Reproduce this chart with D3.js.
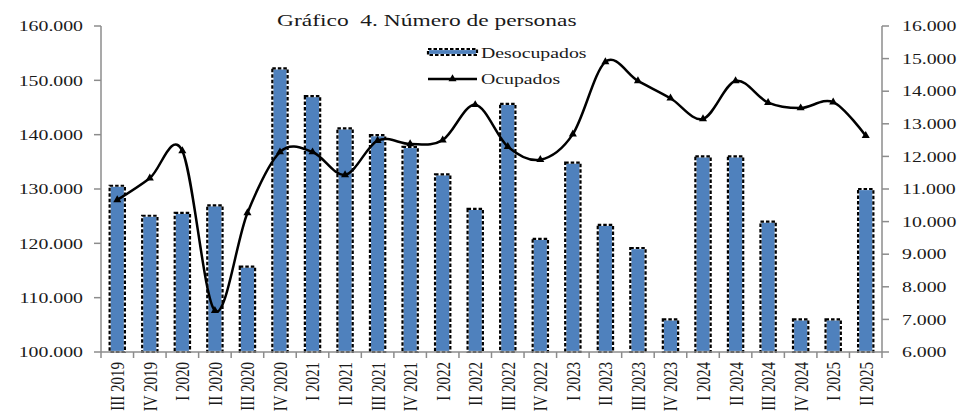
<!DOCTYPE html>
<html>
<head>
<meta charset="utf-8" />
<title>Número de personas</title>
<script src="https://cdn.jsdelivr.net/npm/d3@7"></script>
<style>
    body { margin: 0; background: #fff; }
    text { font-family: "Liberation Serif", "Times New Roman", serif; fill: #1a1a1a; font-weight: normal; }
</style>
</head>
<body>
<svg id="chart" width="959" height="411"></svg>
<script>
// quarters
var quarters = ["III 2019", "IV 2019", "I 2020", "II 2020", "III 2020", "IV 2020",
    "I 2021", "II 2021", "III 2021", "IV 2021", "I 2022", "II 2022", "III 2022", "IV 2022",
    "I 2023", "II 2023", "III 2023", "IV 2023", "I 2024", "II 2024", "III 2024", "IV 2024",
    "I 2025", "II 2025"];

// Desocupados (bars, right axis)
var desocupados = [11100, 10180, 10270, 10500, 8620, 14700,
    13850, 12860, 12650, 12290, 11450, 10390, 13610, 9470,
    11810, 9900, 9190, 7000, 12000, 12000, 10000, 7000,
    7000, 11000];

// Ocupados (line, left axis)
var ocupados = [128000, 132000, 137000, 107600, 125600, 136800,
    136800, 132600, 138900, 138300, 139000, 145500, 137800, 135400,
    140100, 153400, 149900, 146700, 142900, 149900, 145900, 144900,
    146000, 139800];

var leftTicks = [100000, 110000, 120000, 130000, 140000, 150000, 160000];
var rightTicks = [6000, 7000, 8000, 9000, 10000, 11000, 12000, 13000, 14000, 15000, 16000];

var fmt = function(v) { return d3.format(",")(v).replace(/,/g, "."); };
var stretch = 1.32;  // the picture's text is wider than it is tall

var svg = d3.select("#chart");
var pL = 101, pR = 882, pT = 26, pB = 352;

var x = d3.scaleBand().domain(quarters).range([pL, pR]).paddingInner(0.53).paddingOuter(0.265);
var xb = d3.scaleBand().domain(quarters).range([pL, pR]);
var yL = d3.scaleLinear().domain([100000, 160000]).range([pB, pT]);
var yR = d3.scaleLinear().domain([6000, 16000]).range([pB, pT]);

// bars
var bars = svg.append("g").selectAll("g").data(desocupados).enter().append("g");
bars.append("rect")
    .attr("x", function(d, i) { return x(quarters[i]); })
    .attr("y", function(d) { return yR(d); })
    .attr("width", x.bandwidth())
    .attr("height", function(d) { return pB - yR(d); })
    .attr("fill", "#4F81BD")
    .attr("stroke", "#fff")
    .attr("stroke-width", 2.2);
bars.append("rect")
    .attr("x", function(d, i) { return x(quarters[i]); })
    .attr("y", function(d) { return yR(d); })
    .attr("width", x.bandwidth())
    .attr("height", function(d) { return pB - yR(d); })
    .attr("fill", "none")
    .attr("stroke", "#000")
    .attr("stroke-width", 2.2)
    .attr("stroke-dasharray", "3.5,2");

// axes lines
var axisColor = "#8c8c8c";
svg.append("line").attr("x1", pL).attr("x2", pL).attr("y1", pT).attr("y2", pB)
    .attr("stroke", axisColor).attr("stroke-width", 1.5);
svg.append("line").attr("x1", pR).attr("x2", pR).attr("y1", pT).attr("y2", pB)
    .attr("stroke", axisColor).attr("stroke-width", 1.5);
svg.append("line").attr("x1", pL).attr("x2", pR).attr("y1", pB).attr("y2", pB)
    .attr("stroke", axisColor).attr("stroke-width", 1.5);

// left ticks
leftTicks.forEach(function(t) {
    svg.append("line").attr("x1", pL - 7).attr("x2", pL).attr("y1", yL(t)).attr("y2", yL(t))
        .attr("stroke", axisColor).attr("stroke-width", 1.5);
    svg.append("text")
        .attr("transform", "translate(83," + yL(t) + ") scale(" + stretch + ",1)")
        .attr("dy", "0.35em")
        .attr("text-anchor", "end")
        .style("font-size", "15px")
        .text(fmt(t));
});

// right ticks
rightTicks.forEach(function(t) {
    svg.append("line").attr("x1", pR).attr("x2", pR + 7).attr("y1", yR(t)).attr("y2", yR(t))
        .attr("stroke", axisColor).attr("stroke-width", 1.5);
    svg.append("text")
        .attr("transform", "translate(902," + yR(t) + ") scale(" + stretch + ",1)")
        .attr("dy", "0.35em")
        .style("font-size", "15px")
        .text(fmt(t));
});

// category ticks and labels
quarters.forEach(function(q, i) {
    svg.append("line").attr("x1", xb(q)).attr("x2", xb(q)).attr("y1", pB).attr("y2", pB + 6)
        .attr("stroke", axisColor).attr("stroke-width", 1.5);
    svg.append("text")
        .attr("transform", "translate(" + (xb(q) + xb.bandwidth() / 2) + ",362) scale(" + stretch + ",1) rotate(-90)")
        .attr("dy", "0.35em")
        .attr("text-anchor", "end")
        .style("font-size", "15px")
        .text(q);
});
svg.append("line").attr("x1", pR).attr("x2", pR).attr("y1", pB).attr("y2", pB + 6)
    .attr("stroke", axisColor).attr("stroke-width", 1.5);

// line
var cx = function(i) { return xb(quarters[i]) + xb.bandwidth() / 2; };
var line = d3.line()
    .x(function(d, i) { return cx(i); })
    .y(function(d) { return yL(d); })
    .curve(d3.curveCardinal.tension(0));
svg.append("path").datum(ocupados)
    .attr("d", line)
    .attr("fill", "none")
    .attr("stroke", "#000")
    .attr("stroke-width", 2.5);

var tri = d3.symbol().type(d3.symbolTriangle).size(28);
svg.append("g").selectAll("path").data(ocupados).enter().append("path")
    .attr("d", tri)
    .attr("transform", function(d, i) { return "translate(" + cx(i) + "," + yL(d) + ")"; })
    .attr("fill", "#000");

// title
svg.append("text")
    .attr("transform", "translate(277,26) scale(1.34,1)")
    .style("font-size", "17.5px")
    .attr("xml:space", "preserve")
    .text("Gráfico  4. Número de personas");

// legend
svg.append("rect").attr("x", 428).attr("y", 49).attr("width", 49).attr("height", 6)
    .attr("fill", "#4F81BD").attr("stroke", "#fff").attr("stroke-width", 2.2);
svg.append("rect").attr("x", 428).attr("y", 49).attr("width", 49).attr("height", 6)
    .attr("fill", "none").attr("stroke", "#000").attr("stroke-width", 2.2).attr("stroke-dasharray", "3.5,2");
svg.append("text")
    .attr("transform", "translate(481,57.5) scale(" + stretch + ",1)")
    .style("font-size", "15px")
    .text("Desocupados");

svg.append("line").attr("x1", 428).attr("x2", 477).attr("y1", 79).attr("y2", 79)
    .attr("stroke", "#000").attr("stroke-width", 2.5);
svg.append("path").attr("d", tri).attr("transform", "translate(452.5,79)").attr("fill", "#000");
svg.append("text")
    .attr("transform", "translate(481,83.5) scale(" + stretch + ",1)")
    .style("font-size", "15px")
    .text("Ocupados");
</script>
</body>
</html>
